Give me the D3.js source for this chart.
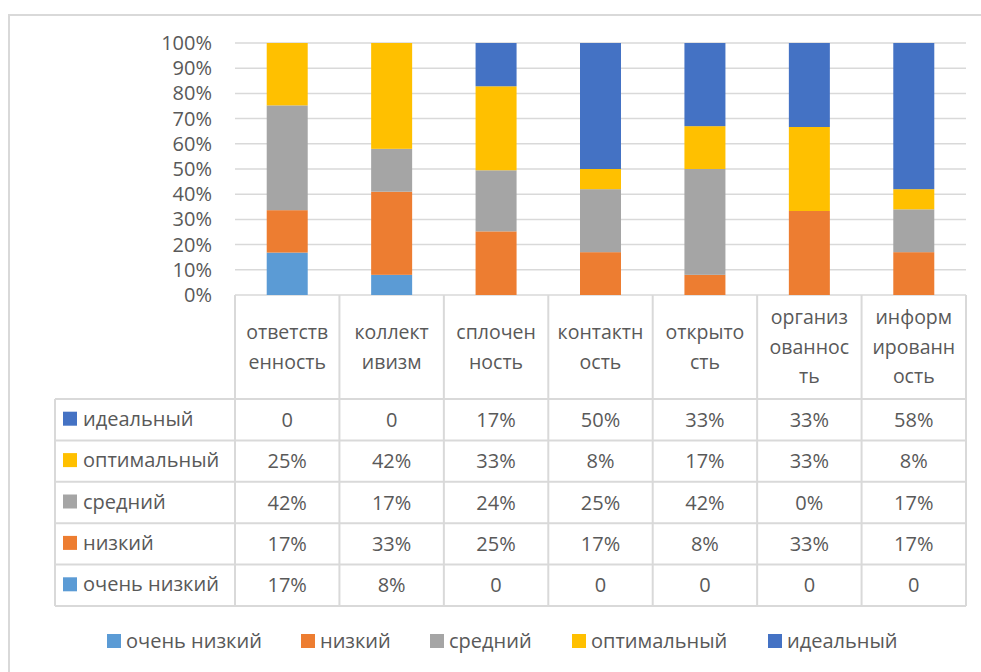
<!DOCTYPE html>
<html><head><meta charset="utf-8">
<script src="https://cdn.jsdelivr.net/npm/d3@7"></script>
<style>
html,body{margin:0;padding:0;background:#fff;}
svg{display:block;}
text{font-family:"Open Sans","Noto Sans",sans-serif;fill:#595959;}
</style></head>
<body>
<svg id="chart" width="981" height="672"></svg>
<script>
const categories = ["ответственность","коллективизм","сплоченность","контактность","открытость","организованность","информированность"];
const categoryLines = [["ответств","енность"],["коллект","ивизм"],["сплочен","ность"],["контактн","ость"],["открыто","сть"],["организ","ованнос","ть"],["информ","ированн","ость"]];
const seriesNames = ["очень низкий","низкий","средний","оптимальный","идеальный"];
const seriesColors = ["#5B9BD5","#ED7D31","#A5A5A5","#FFC000","#4472C4"];
const veryLow  = [17, 8, 0, 0, 0, 0, 0];
const low      = [17, 33, 25, 17, 8, 33, 17];
const medium   = [42, 17, 24, 25, 42, 0, 17];
const optimal  = [25, 42, 33, 8, 17, 33, 8];
const ideal    = [0, 0, 17, 50, 33, 33, 58];
// cells whose zero is printed as "0%" in the table: [seriesIndex, categoryIndex]
const zeroShownAsPercent = [[2, 5]];
const yTicks = [0,0.1,0.2,0.3,0.4,0.5,0.6,0.7,0.8,0.9,1];

const seriesValues = [veryLow, low, medium, optimal, ideal];
const svg = d3.select("#chart");
const W = 981, H = 672;
const grid = "#d9d9d9";

// outer frame
svg.append("rect").attr("x",9).attr("y",15).attr("width",W).attr("height",H)
  .attr("fill","none").attr("stroke",grid).attr("stroke-width",2);

const plot = {left:235, right:966, top:43, bottom:295};
const x = d3.scaleBand().domain(categories).range([plot.left, plot.right]).paddingInner(0).paddingOuter(0);
const y = d3.scaleLinear().domain([0,1]).range([plot.bottom, plot.top]);

// gridlines
svg.append("g").selectAll("line").data(yTicks).join("line")
  .attr("x1",plot.left).attr("x2",plot.right)
  .attr("y1",d=>y(d)).attr("y2",d=>y(d))
  .attr("stroke",grid).attr("stroke-width",1.5);

// y tick labels
svg.append("g").selectAll("text").data(yTicks).join("text")
  .attr("x",212).attr("y",d=>y(d)).attr("dy","0.35em")
  .attr("text-anchor","end").attr("font-size",20)
  .text(d=>d3.format(".0%")(d));

// stacked data (normalized to 100%)
const rows = categories.map((c,i)=>{
  const o = {cat:c};
  seriesNames.forEach((s,k)=>o[s]=seriesValues[k][i]);
  return o;
});
const stack = d3.stack().keys(seriesNames).offset(d3.stackOffsetExpand);
const stacked = stack(rows);
const barW = 41;
svg.append("g").selectAll("g").data(stacked).join("g")
  .attr("fill",(d,i)=>seriesColors[i])
  .selectAll("rect").data(d=>d).join("rect")
  .attr("x",d=>x(d.data.cat)+x.bandwidth()/2-barW/2)
  .attr("width",barW)
  .attr("y",d=>y(d[1]))
  .attr("height",d=>Math.max(0,y(d[0])-y(d[1])));

// data table
const headerBottom = 399;
const rowH = (606-399)/5;
const tableLeft = 55;
const tbl = svg.append("g");
const lineAttr = s=>s.attr("stroke",grid).attr("stroke-width",2);
// vertical lines in category area
categories.concat([null]).forEach((c,i)=>{
  const xx = c===null ? plot.right : x(c);
  lineAttr(tbl.append("line").attr("x1",xx).attr("x2",xx).attr("y1",plot.bottom).attr("y2",headerBottom+rowH*5));
});
// left border of key column
lineAttr(tbl.append("line").attr("x1",tableLeft).attr("x2",tableLeft).attr("y1",headerBottom).attr("y2",headerBottom+rowH*5));
// horizontal lines
for(let r=0;r<=5;r++){
  const yy = headerBottom + r*rowH;
  lineAttr(tbl.append("line").attr("x1",tableLeft).attr("x2",plot.right).attr("y1",yy).attr("y2",yy));
}
// header labels
categories.forEach((c,i)=>{
  const lines = categoryLines[i];
  const lh = 29.5;
  const cy = (plot.bottom+headerBottom)/2;
  const t = tbl.append("text").attr("text-anchor","middle").attr("font-size",19.5);
  lines.forEach((ln,j)=>{
    t.append("tspan").attr("x",x(c)+x.bandwidth()/2)
      .attr("y",cy + (j-(lines.length-1)/2)*lh).attr("dy","0.35em").text(ln);
  });
});
// rows: reversed order of series
const order = seriesNames.map((s,k)=>k).reverse();
order.forEach((k,r)=>{
  const cy = headerBottom + r*rowH + rowH/2;
  tbl.append("rect").attr("x",63).attr("y",cy-8).attr("width",14).attr("height",14).attr("fill",seriesColors[k]);
  tbl.append("text").attr("x",83).attr("y",cy-1).attr("dy","0.35em").attr("font-size",20).text(seriesNames[k]);
  categories.forEach((c,i)=>{
    const v = seriesValues[k][i];
    const pctZero = zeroShownAsPercent.some(p=>p[0]===k&&p[1]===i);
    const label = v===0 && !pctZero ? "0" : v+"%";
    tbl.append("text").attr("x",x(c)+x.bandwidth()/2).attr("y",cy).attr("dy","0.35em")
      .attr("text-anchor","middle").attr("font-size",20).text(label);
  });
});

// bottom legend
const legendX = [107, 301, 430, 572, 768];
const lg = svg.append("g");
seriesNames.forEach((s,k)=>{
  lg.append("rect").attr("x",legendX[k]).attr("y",634).attr("width",14).attr("height",14).attr("fill",seriesColors[k]);
  lg.append("text").attr("x",legendX[k]+19).attr("y",641).attr("dy","0.35em").attr("font-size",20).text(s);
});
</script>
</body></html>
